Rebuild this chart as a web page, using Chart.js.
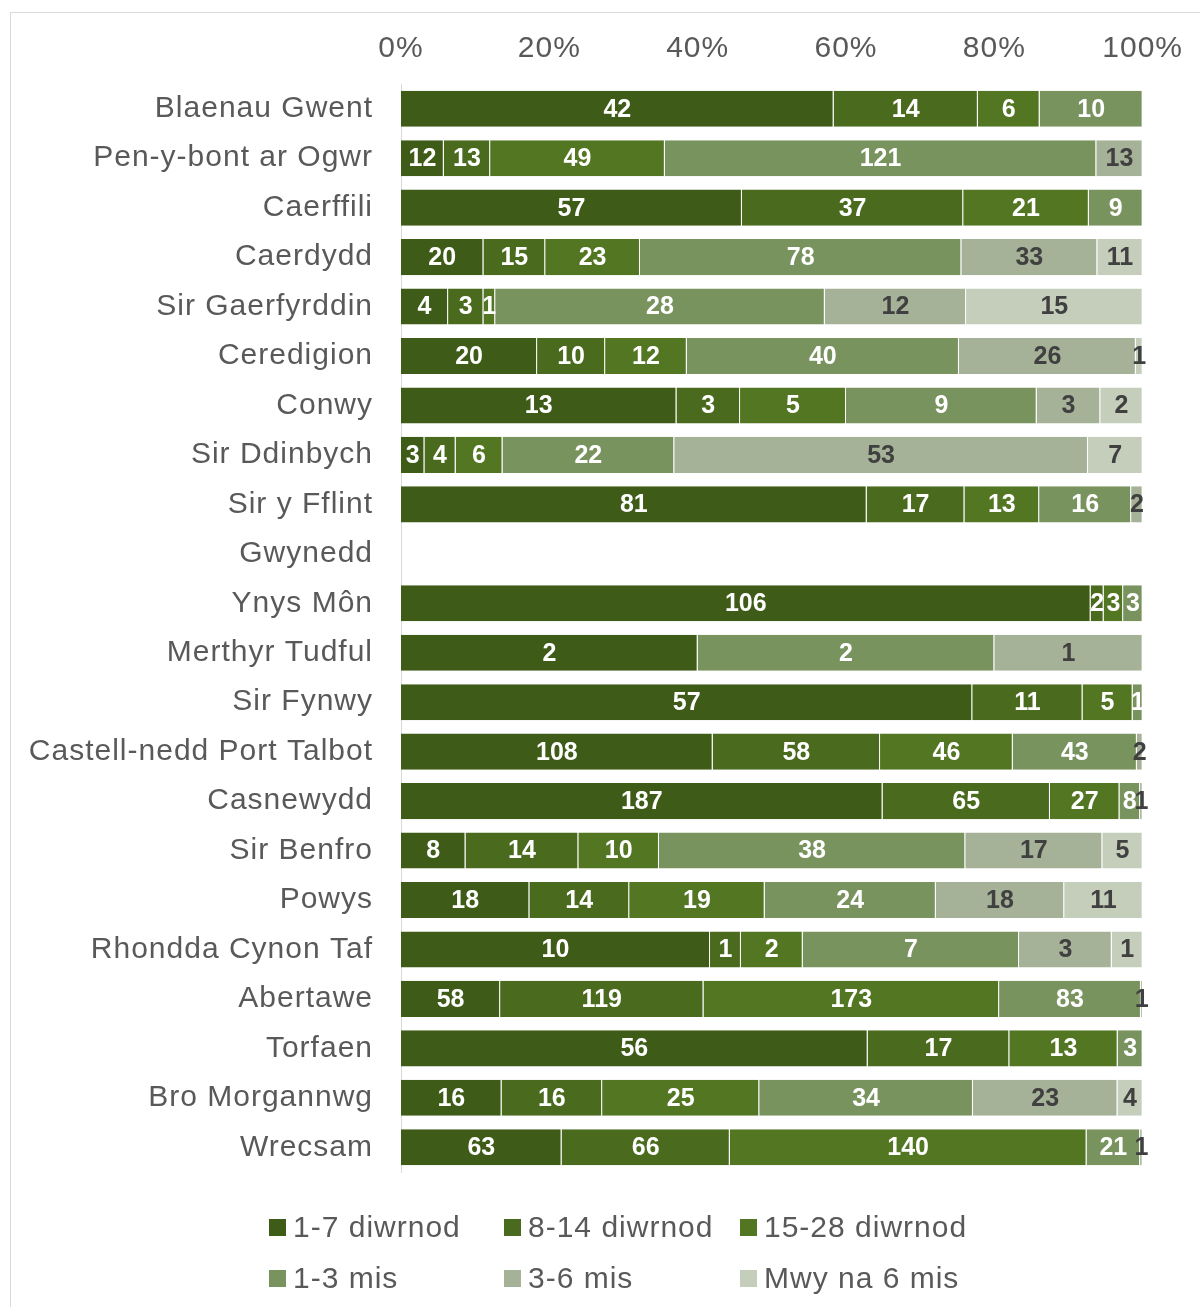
<!DOCTYPE html>
<html>
<head>
<meta charset="utf-8">
<script src="https://cdn.jsdelivr.net/npm/chart.js@4.4.1/dist/chart.umd.min.js"></script>
<style>
  html, body { margin: 0; padding: 0; background: #ffffff; }
  body { width: 1200px; height: 1307px; position: relative; overflow: hidden; font-family: "Liberation Sans", Arial, sans-serif; }
  #frame { position: absolute; left: 10px; top: 12px; width: 1220px; height: 1330px; border: 1px solid #d9d9d9; box-sizing: border-box; }
  #c { position: absolute; left: 0; top: 0; }
  #legend { position: absolute; left: 0; top: 0; width: 1200px; height: 1307px; pointer-events: none; }
  .item { position: absolute; display: flex; align-items: center; font-size: 30px; letter-spacing: 1px; color: #595959; white-space: nowrap; height: 36px; }
  .box { width: 17px; height: 17px; margin-right: 7px; }
</style>
</head>
<body>
<div id="frame"></div>
<canvas id="c" width="1200" height="1218"></canvas>
<div id="legend"></div>
<script>
const categories = ["Blaenau Gwent","Pen-y-bont ar Ogwr","Caerffili","Caerdydd","Sir Gaerfyrddin","Ceredigion","Conwy","Sir Ddinbych","Sir y Fflint","Gwynedd","Ynys Môn","Merthyr Tudful","Sir Fynwy","Castell-nedd Port Talbot","Casnewydd","Sir Benfro","Powys","Rhondda Cynon Taf","Abertawe","Torfaen","Bro Morgannwg","Wrecsam"];
const seriesNames = ["1-7 diwrnod","8-14 diwrnod","15-28 diwrnod","1-3 mis","3-6 mis","Mwy na 6 mis"];
const days1to7   = [42, 12, 57, 20,  4, 20, 13,  3, 81, 0, 106, 2,  57, 108, 187,  8, 18, 10,  58, 56, 16,  63];
const days8to14  = [14, 13, 37, 15,  3, 10,  3,  4, 17, 0,   2, 0,  11,  58,  65, 14, 14,  1, 119, 17, 16,  66];
const days15to28 = [ 6, 49, 21, 23,  1, 12,  5,  6, 13, 0,   3, 0,   5,  46,  27, 10, 19,  2, 173, 13, 25, 140];
const months1to3 = [10,121,  9, 78, 28, 40,  9, 22, 16, 0,   3, 2,   1,  43,   8, 38, 24,  7,  83,  3, 34,  21];
const months3to6 = [ 0, 13,  0, 33, 12, 26,  3, 53,  2, 0,   0, 1,   0,   2,   1, 17, 18,  3,   1,  0, 23,   1];
const months6plus= [ 0,  0,  0, 11, 15,  1,  2,  7,  0, 0,   0, 0,   0,   0,   0,  5, 11,  1,   0,  0,  4,   0];
const xTicks = [0, 20, 40, 60, 80, 100];

const series = [days1to7, days8to14, days15to28, months1to3, months3to6, months6plus];
const colors = ["#3e5b17", "#4a6a1e", "#537622", "#79935f", "#a5b298", "#c5cdbb"];
const labelColors = ["#ffffff", "#ffffff", "#ffffff", "#ffffff", "#404040", "#404040"];

const totals = categories.map((_, j) => series.reduce((s, arr) => s + arr[j], 0));
const datasets = series.map((arr, i) => ({
  label: seriesNames[i],
  data: arr.map((v, j) => totals[j] ? v / totals[j] * 100 : 0),
  backgroundColor: colors[i],
  borderColor: "rgba(255,255,255,0.35)",
  borderWidth: { right: 1, left: 0, top: 0, bottom: 0 },
  borderSkipped: false,
  barPercentage: 0.73,
  categoryPercentage: 1.0
}));

const spacing = {
  id: "spacing",
  beforeUpdate(chart) { chart.ctx.letterSpacing = "1px"; },
  beforeDraw(chart) { chart.ctx.letterSpacing = "1px"; }
};

const valueLabels = {
  id: "valueLabels",
  afterDatasetsDraw(chart) {
    const ctx = chart.ctx;
    ctx.save();
    ctx.letterSpacing = "0px";
    ctx.font = "bold 25px 'Liberation Sans', Arial, sans-serif";
    ctx.textAlign = "center";
    ctx.textBaseline = "middle";
    chart.data.datasets.forEach((ds, i) => {
      const meta = chart.getDatasetMeta(i);
      meta.data.forEach((el, j) => {
        const v = series[i][j];
        if (!v) return;
        const p = el.getCenterPoint();
        ctx.fillStyle = labelColors[i];
        ctx.fillText(String(v), p.x, p.y + 1);
      });
    });
    ctx.restore();
  }
};

const chart = new Chart(document.getElementById("c"), {
  type: "bar",
  data: { labels: categories, datasets },
  options: {
    indexAxis: "y",
    responsive: false,
    animation: false,
    layout: { padding: { left: 0, right: 53, top: 0, bottom: 18 } },
    plugins: { legend: { display: false }, tooltip: { enabled: false } },
    scales: {
      x: {
        position: "top",
        stacked: true,
        min: 0, max: 100,
        afterBuildTicks(scale) { scale.ticks = xTicks.map(v => ({ value: v })); },
        ticks: {
          callback: v => v + "%",
          color: "#595959",
          font: { size: 30, family: "'Liberation Sans', Arial, sans-serif" },
          padding: 17,
          maxRotation: 0
        },
        grid: { display: false, drawTicks: false },
        border: { display: false },
        afterFit(scale) { scale.height = 84; }
      },
      y: {
        stacked: true,
        ticks: {
          color: "#595959",
          font: { size: 30, family: "'Liberation Sans', Arial, sans-serif" },
          padding: 28,
          autoSkip: false
        },
        grid: { display: false, drawTicks: false },
        border: { display: true, color: "#d9d9d9", width: 1 },
        afterFit(scale) { scale.width = 401; }
      }
    }
  },
  plugins: [spacing, valueLabels]
});

// HTML legend built from the series names and colours
const legend = document.getElementById("legend");
const colX = [269, 504, 740];
const rowY = [1227, 1278];
seriesNames.forEach((name, i) => {
  const item = document.createElement("div");
  item.className = "item";
  item.style.left = colX[i % 3] + "px";
  item.style.top = (rowY[Math.floor(i / 3)] - 18) + "px";
  const box = document.createElement("span");
  box.className = "box";
  box.style.background = colors[i];
  const txt = document.createElement("span");
  txt.textContent = name;
  item.appendChild(box);
  item.appendChild(txt);
  legend.appendChild(item);
});
</script>
</body>
</html>
